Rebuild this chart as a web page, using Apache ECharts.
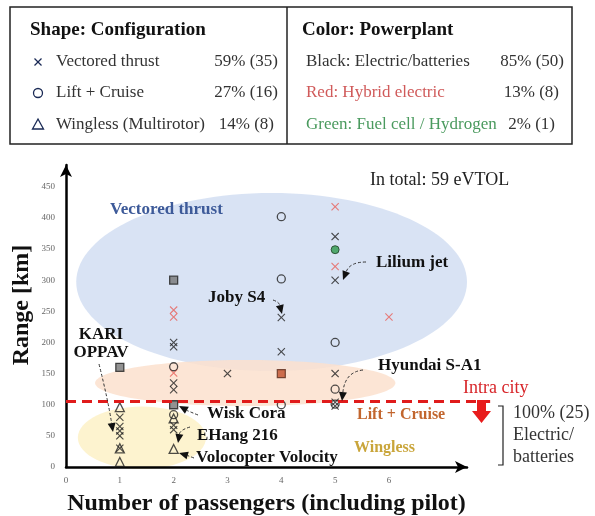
<!DOCTYPE html>
<html>
<head>
<meta charset="utf-8">
<script src="https://cdn.jsdelivr.net/npm/echarts@6/dist/echarts.min.js"></script>
<style>
  html, body { margin: 0; padding: 0; background: #fff; }
  #chart { width: 595px; height: 516px; }
</style>
</head>
<body>
<div id="chart"></div>
<script>
// x = passengers (incl. pilot), y = range in km
var vectoredElectric = [[1, 80], [1, 65], [1, 58], [1, 50], [1, 30], [2, 200], [2, 193], [2, 135], [2, 124],
    [2, 67], [2, 60], [3, 150], [4, 240], [4, 185], [5, 370], [5, 300], [5, 150], [5, 104], [5, 98]];
var vectoredHybrid = [[2, 252], [2, 241], [2, 151], [5, 418], [5, 322], [6, 241]];
var liftCruiseElectric = [[2, 161], [2, 84], [4, 402], [4, 302], [4, 100], [5, 200], [5, 125], [5, 101]];
var liftCruiseHydrogen = [[5, 349]];
var winglessElectric = [[1, 96], [1, 30], [1, 8], [2, 78], [2, 29]];
var overlapElectric = [[1, 160], [2, 300], [2, 100]];
var overlapHybrid = [[4, 150]];

var xTicks = [0, 1, 2, 3, 4, 5, 6];
var yTicks = [0, 50, 100, 150, 200, 250, 300, 350, 400, 450];
var intraCity = 105;

// background clusters: [centre x, centre y, radius x, radius y] in data units
var vectoredRegion = [3.82, 297, 3.63, 143];
var liftCruiseRegion = [3.33, 135, 2.79, 37];
var winglessRegion = [1.41, 47, 1.19, 50];

var SERIF = "'Liberation Serif', 'Times New Roman', serif";
var X_PATH = 'path://M0,1L1,0L5,4L9,0L10,1L6,5L10,9L9,10L5,6L1,10L0,9L4,5Z';

var myChart = echarts.init(document.getElementById('chart'));

function xSeries(data, color) {
    return {type: 'scatter', data: data, symbol: X_PATH, symbolSize: 8, z: 5,
        itemStyle: {color: color}};
}
function hollowSeries(data, symbol, size) {
    return {type: 'scatter', data: data, symbol: symbol, symbolSize: size, z: 5,
        itemStyle: {color: 'rgba(0,0,0,0)', borderColor: '#222', borderWidth: 1.3}};
}

var option = {
    animation: false,
    grid: {left: 66, right: 128, top: 165, bottom: 49, outerBoundsMode: 'none', containLabel: false},
    xAxis: {
        type: 'value', min: 0, max: 7.45, interval: 1,
        name: 'Number of passengers (including pilot)',
        nameLocation: 'middle', nameGap: 25,
        nameTextStyle: {fontFamily: SERIF, fontWeight: 'bold', fontSize: 24, color: '#111'},
        axisLine: {lineStyle: {color: '#000', width: 2.5}, symbol: ['none', 'arrow'], symbolSize: [9, 12]},
        axisTick: {show: false},
        splitLine: {show: false},
        axisLabel: {fontFamily: SERIF, fontSize: 9, color: '#666', margin: 9,
            formatter: function (v) { return xTicks.indexOf(v) >= 0 ? v : ''; }}
    },
    yAxis: {
        type: 'value', min: 0, max: 485, interval: 50,
        axisLine: {lineStyle: {color: '#000', width: 2.5}, symbol: ['none', 'arrow'], symbolSize: [9, 12]},
        axisTick: {show: false},
        splitLine: {show: false},
        axisLabel: {fontFamily: SERIF, fontSize: 9, color: '#666', margin: 11,
            formatter: function (v) { return yTicks.indexOf(v) >= 0 ? v : ''; }}
    },
    series: [
        xSeries(vectoredElectric, '#222'),
        xSeries(vectoredHybrid, '#e8605a'),
        hollowSeries(liftCruiseElectric, 'circle', 8),
        {type: 'scatter', data: liftCruiseHydrogen, symbol: 'circle', symbolSize: 8, z: 5,
            itemStyle: {color: '#2e9a4c', borderColor: '#1d3d22', borderWidth: 1}},
        hollowSeries(winglessElectric, 'triangle', 9),
        {type: 'scatter', data: overlapElectric, symbol: 'rect', symbolSize: 8, z: 5,
            itemStyle: {color: '#777', borderColor: '#222', borderWidth: 1.3}},
        {type: 'scatter', data: overlapHybrid, symbol: 'rect', symbolSize: 8, z: 5,
            itemStyle: {color: '#c1502c', borderColor: '#5a2a1a', borderWidth: 1.2}}
    ]
};
myChart.setOption(option);

function px(p) { return myChart.convertToPixel({gridIndex: 0}, p); }

function ellipse(r, color) {
    var c = px([r[0], r[1]]);
    var e = px([r[0] + r[2], r[1] + r[3]]);
    return {type: 'ellipse', z: 0,
        shape: {cx: c[0], cy: c[1], rx: e[0] - c[0], ry: c[1] - e[1]},
        style: {fill: color}};
}

function text(str, x, y, font, color, align) {
    return {type: 'text', z: 10, style: {text: str, x: x, y: y, font: font, fill: color || '#111',
        align: align || 'left', verticalAlign: 'middle'}};
}

function arrow(p0, c, p1) {
    var ang = Math.atan2(p1[1] - c[1], p1[0] - c[0]);
    var L = 9, W = 4;
    var base = [p1[0] - L * Math.cos(ang), p1[1] - L * Math.sin(ang)];
    var left = [base[0] + W * Math.sin(ang), base[1] - W * Math.cos(ang)];
    var right = [base[0] - W * Math.sin(ang), base[1] + W * Math.cos(ang)];
    return [
        {type: 'bezierCurve', z: 9,
            shape: {x1: p0[0], y1: p0[1], x2: base[0], y2: base[1], cpx1: c[0], cpy1: c[1]},
            style: {stroke: '#333', lineWidth: 1, fill: null, lineDash: [3, 2]}},
        {type: 'polygon', z: 9, shape: {points: [p1, left, right]}, style: {fill: '#111'}}
    ];
}

var bold17 = 'bold 17px ' + SERIF;
var bold16 = 'bold 16px ' + SERIF;
var reg17 = '17px ' + SERIF;
var reg18 = '18px ' + SERIF;
var g = [];

// y axis title
g.push({type: 'text', z: 10, x: 22, y: 305, rotation: Math.PI / 2,
    style: {text: 'Range [km]', font: 'bold 24px ' + SERIF, fill: '#111', align: 'center', verticalAlign: 'middle'}});

// clusters
g.push(ellipse(vectoredRegion, 'rgba(215,226,243,0.95)'));
g.push(ellipse(liftCruiseRegion, 'rgba(251,224,206,0.85)'));
g.push(ellipse(winglessRegion, 'rgba(253,242,204,0.95)'));

// intra-city line
var l0 = px([0, intraCity]);
var l1 = px([7.88, intraCity]);
g.push({type: 'line', z: 8, shape: {x1: l0[0], y1: l0[1], x2: l1[0], y2: l1[1]},
    style: {stroke: '#e01b1b', lineWidth: 3, lineDash: [10, 6]}});
g.push({type: 'polygon', z: 9, shape: {points: [[477, 400], [486, 400], [486, 411], [491, 411],
    [481.5, 423], [472, 411], [477, 411]]}, style: {fill: '#e81c1c'}});
g.push(text('Intra city', 463, 388, reg18, '#d8262a'));

// bracket
g.push({type: 'polyline', z: 8, shape: {points: [[498, 406], [503, 406], [503, 465], [498, 465]]},
    style: {stroke: '#222', lineWidth: 1.2, fill: null}});
g.push(text('100% (25)', 513, 413, reg18, '#333'));
g.push(text('Electric/', 513, 435, reg18, '#333'));
g.push(text('batteries', 513, 457, reg18, '#333'));

// region labels
g.push(text('Vectored thrust', 110, 210, bold17, '#3d5a99'));
g.push(text('Lift + Cruise', 357, 415, bold16, '#c2662e'));
g.push(text('Wingless', 354, 448, bold16, '#c9a53a'));
g.push(text('In total: 59 eVTOL', 370, 180, reg18, '#222'));

// aircraft annotations
g.push(text('KARI', 101, 335, bold17, '#111', 'center'));
g.push(text('OPPAV', 101, 353, bold17, '#111', 'center'));
g.push(text('Joby S4', 208, 298, bold17));
g.push(text('Lilium jet', 376, 263, bold17));
g.push(text('Hyundai S-A1', 378, 366, bold17));
g.push(text('Wisk Cora', 207, 414, bold17));
g.push(text('EHang 216', 197, 436, bold17));
g.push(text('Volocopter Volocity', 196, 458, bold17));
g = g.concat(arrow([99, 364], [108, 400], [113, 432]));
g = g.concat(arrow([273, 300], [279, 302], [282, 314]));
g = g.concat(arrow([366, 262], [350, 262], [343, 280]));
g = g.concat(arrow([363, 370], [345, 372], [342, 401]));
g = g.concat(arrow([198, 415], [188, 411], [179, 406]));
g = g.concat(arrow([190, 427], [180, 430], [178, 443]));
g = g.concat(arrow([194, 458], [186, 455], [179, 453]));

// legend table
g.push({type: 'rect', z: 8, shape: {x: 10, y: 7, width: 562, height: 137},
    style: {fill: null, stroke: '#222', lineWidth: 1.5}});
g.push({type: 'line', z: 8, shape: {x1: 287, y1: 7, x2: 287, y2: 144},
    style: {stroke: '#222', lineWidth: 1.5}});
var bold19 = 'bold 19px ' + SERIF;
g.push(text('Shape: Configuration', 30, 30, bold19));
g.push(text('Color: Powerplant', 302, 30, bold19));
g.push({type: 'line', z: 9, shape: {x1: 34.5, y1: 58.5, x2: 41.5, y2: 65.5}, style: {stroke: '#1a2a55', lineWidth: 1.3}});
g.push({type: 'line', z: 9, shape: {x1: 41.5, y1: 58.5, x2: 34.5, y2: 65.5}, style: {stroke: '#1a2a55', lineWidth: 1.3}});
g.push({type: 'circle', z: 9, shape: {cx: 38, cy: 93, r: 4.5}, style: {fill: null, stroke: '#1a2a55', lineWidth: 1.3}});
g.push({type: 'polygon', z: 9, shape: {points: [[38, 119], [43.5, 129], [32.5, 129]]},
    style: {fill: null, stroke: '#1a2a55', lineWidth: 1.3}});
g.push(text('Vectored thrust', 56, 62, reg17, '#333'));
g.push(text('Lift + Cruise', 56, 93, reg17, '#333'));
g.push(text('Wingless (Multirotor)', 56, 125, reg17, '#333'));
g.push(text('59% (35)', 278, 62, reg17, '#333', 'right'));
g.push(text('27% (16)', 278, 93, reg17, '#333', 'right'));
g.push(text('14% (8)', 274, 125, reg17, '#333', 'right'));
g.push(text('Black: Electric/batteries', 306, 62, reg17, '#333'));
g.push(text('Red: Hybrid electric', 306, 93, reg17, '#d05a5a'));
g.push(text('Green: Fuel cell / Hydrogen', 306, 125, reg17, '#4a9a5e'));
g.push(text('85% (50)', 564, 62, reg17, '#333', 'right'));
g.push(text('13% (8)', 559, 93, reg17, '#333', 'right'));
g.push(text('2% (1)', 555, 125, reg17, '#333', 'right'));

myChart.setOption({graphic: {elements: g}});
</script>
</body>
</html>
